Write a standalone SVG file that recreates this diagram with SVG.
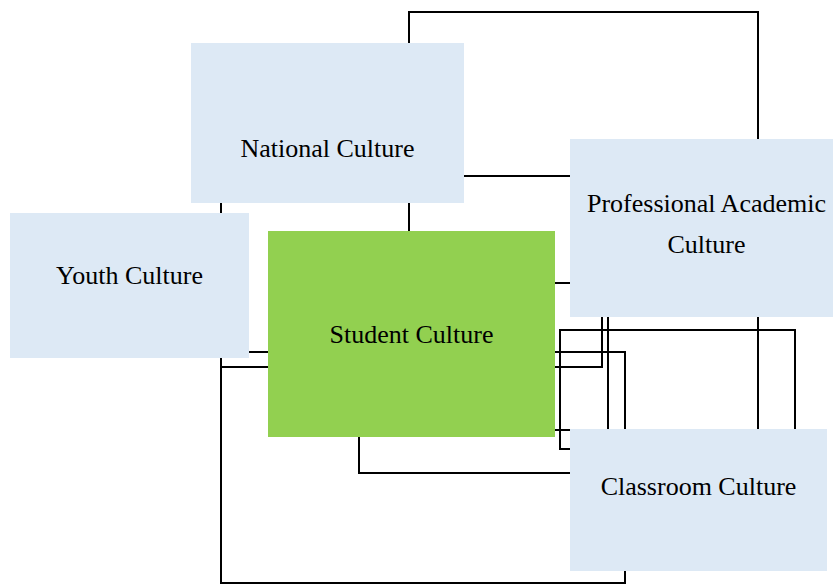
<svg xmlns="http://www.w3.org/2000/svg" width="833" height="584" viewBox="0 0 833 584">
<style>
.conn{fill:none;stroke:#000;stroke-width:2;stroke-linejoin:miter}
.box{fill:#DDE9F5}
.green{fill:#92D050}
.lbl{font-family:"Liberation Serif","Times New Roman",serif;font-size:26px;fill:#000;text-anchor:middle}
</style>
<rect width="833" height="584" fill="#fff"/>
<g id="connectors">
<path class="conn" d="M409,231 V12 H758 V429"/>
<path class="conn" d="M464,176 H570"/>
<path class="conn" d="M554,283 H570"/>
<path class="conn" d="M221,203 V583 H625 V352 H555"/>
<path class="conn" d="M221,367 H268"/>
<path class="conn" d="M249,352 H268"/>
<path class="conn" d="M602,316 V367 H555"/>
<path class="conn" d="M608,316 V429"/>
<path class="conn" d="M570,449 H560 V330 H795 V429"/>
<path class="conn" d="M555,430 H570"/>
<path class="conn" d="M359,436 V473 H570"/>
</g>
<g id="national">
<rect class="box" x="191" y="43" width="273" height="160"/>
<text class="lbl" x="327.5" y="157">National Culture</text>
</g>
<g id="professional">
<rect class="box" x="570" y="139" width="273" height="178"/>
<text class="lbl" x="706.5" y="212">Professional Academic</text>
<text class="lbl" x="706.5" y="253">Culture</text>
</g>
<g id="youth">
<rect class="box" x="10" y="213" width="239" height="145"/>
<text class="lbl" x="129.5" y="284">Youth Culture</text>
</g>
<g id="student">
<rect class="green" x="268" y="231" width="287" height="206"/>
<text class="lbl" x="411.5" y="343">Student Culture</text>
</g>
<g id="classroom">
<rect class="box" x="570" y="429" width="257" height="142"/>
<text class="lbl" x="698.5" y="495">Classroom Culture</text>
</g>
</svg>
